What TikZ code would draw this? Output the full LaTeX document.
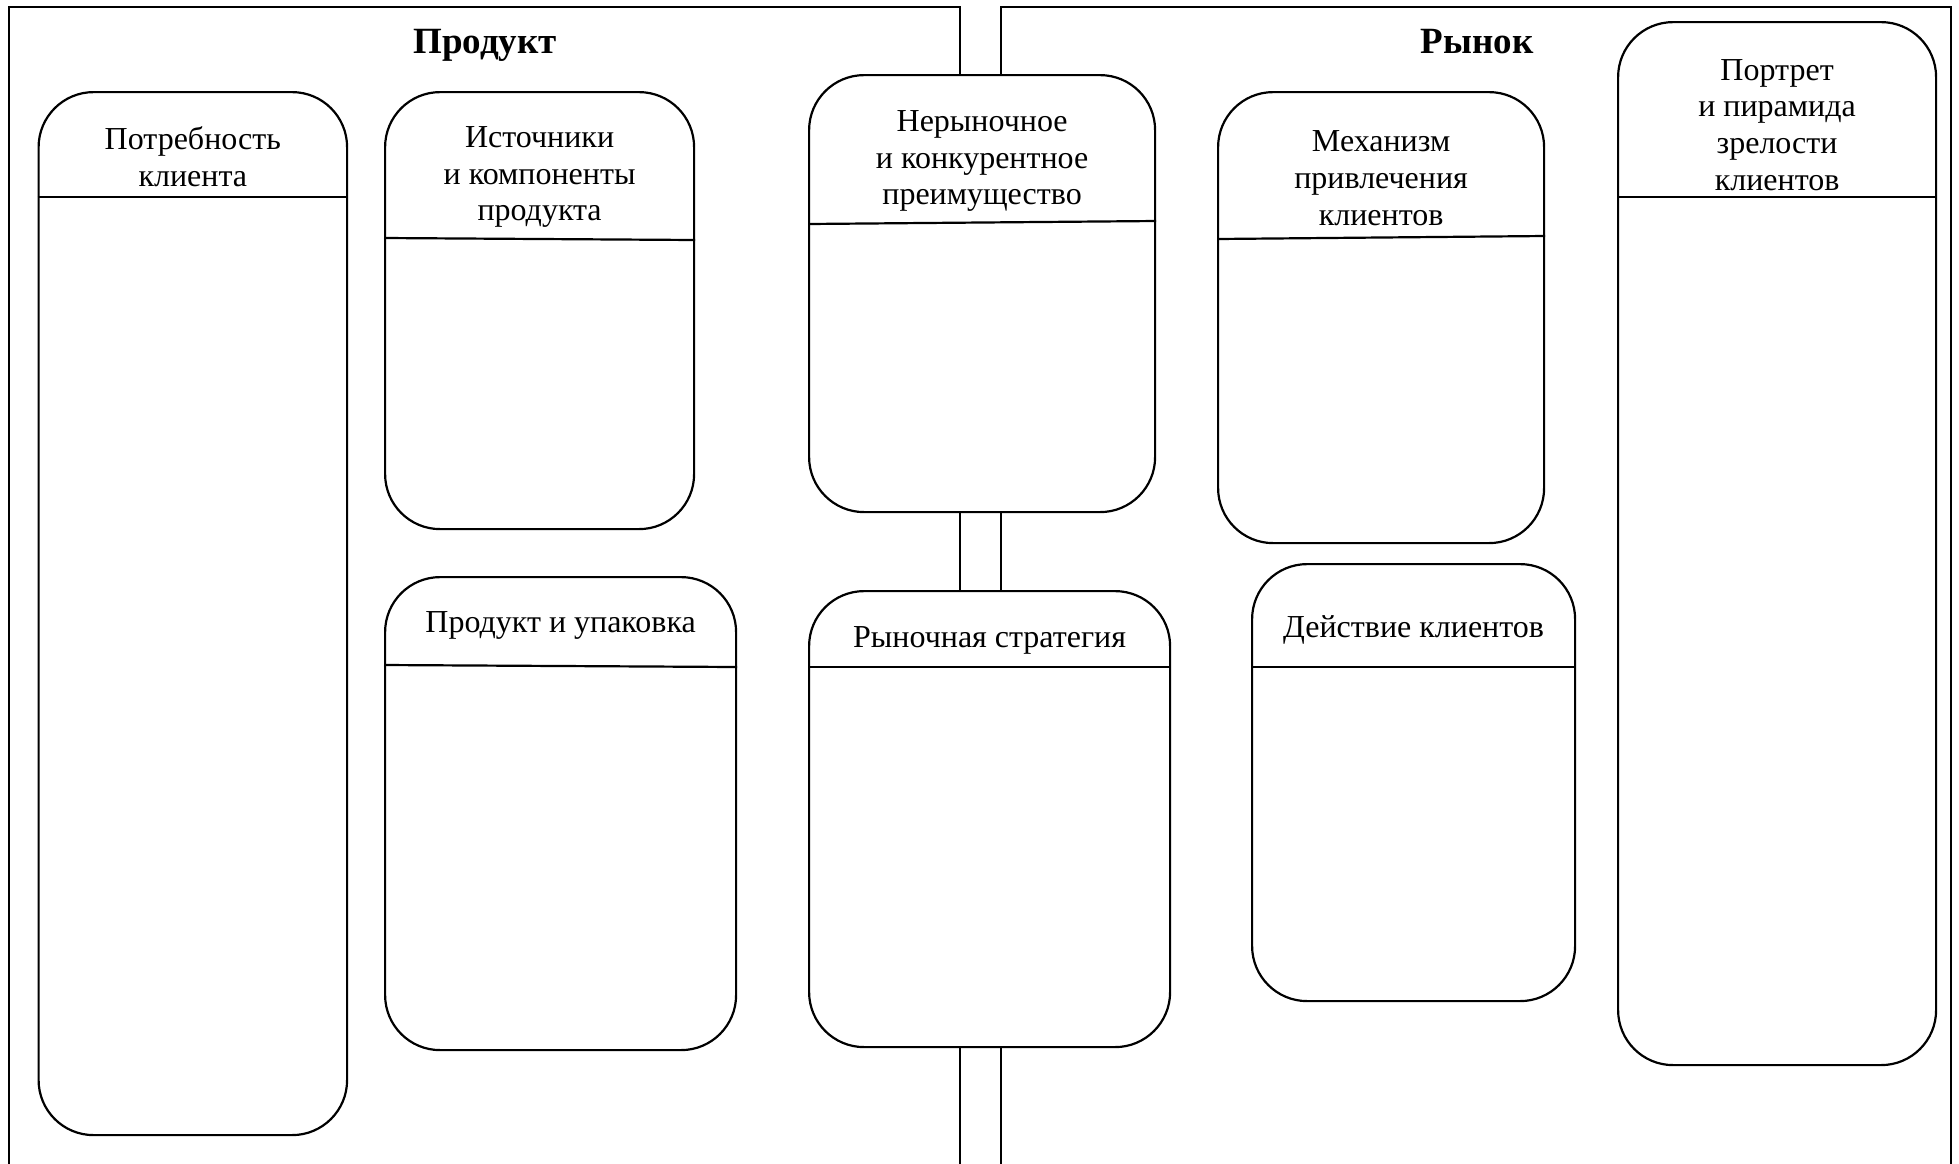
\documentclass[tikz,border=0pt]{standalone}
\usepackage{fontspec}
\setmainfont{Liberation Serif}
\begin{document}
\begin{tikzpicture}[x=1pt,y=-1pt,
  panel/.style={draw=black,line width=1.6pt},
  box/.style={draw=black,fill=white,line width=2.2pt,rounded corners=55pt,inner sep=0pt,anchor=north west},
  hline/.style={draw=black,line width=2.2pt},
  lbl/.style={align=center,inner sep=0pt,font=\fontsize{32}{36.8}\selectfont},
  ttl/.style={inner sep=0pt,anchor=base,font=\fontsize{37}{44}\selectfont\bfseries}]
\useasboundingbox (0,0) rectangle (1959,1163);
% panels
\draw[panel] (9,1170) -- (9,7) -- (960,7) -- (960,1170);
\draw[panel] (1001,1170) -- (1001,7) -- (1951,7) -- (1951,1170);
\node[ttl] (tp) at (485,53) {Продукт};
\node[ttl] (tr) at (1477,53) {Рынок};
% boxes
\node[box,minimum width=308.5pt,minimum height=1043pt] (b1) at (37.5,91) {};
\node[box,minimum width=309pt,minimum height=437pt] (b2) at (384,91) {};
\node[box,minimum width=351pt,minimum height=473pt] (b3) at (384,576) {};
\node[box,minimum width=346pt,minimum height=437pt] (b4) at (808,74) {};
\node[box,minimum width=361pt,minimum height=456pt] (b5) at (808,590) {};
\node[box,minimum width=326pt,minimum height=451pt] (b6) at (1217,91) {};
\node[box,minimum width=323pt,minimum height=437pt] (b7) at (1251,563) {};
\node[box,minimum width=318pt,minimum height=1043pt] (b8) at (1617,21) {};
% header lines
\draw[hline] (b1.west |- 0,197) -- (b1.east |- 0,197);
\draw[hline] (b2.west |- 0,238) -- (b2.east |- 0,240);
\draw[hline] (b3.west |- 0,665) -- (b3.east |- 0,667);
\draw[hline] (b4.west |- 0,224) -- (b4.east |- 0,221);
\draw[hline] (b5.west |- 0,667) -- (b5.east |- 0,667);
\draw[hline] (b6.west |- 0,239) -- (b6.east |- 0,236);
\draw[hline] (b7.west |- 0,667) -- (b7.east |- 0,667);
\draw[hline] (b8.west |- 0,197) -- (b8.east |- 0,197);
% labels
\node[lbl] (l1) at (b1.north |- 0,157) {Потребность\\клиента};
\node[lbl] (l2) at (b2.north |- 0,177) {Источники\\и компоненты\\продукта};
\node[lbl] (l3) at (b3.north |- 0,625) {Продукт и упаковка};
\node[lbl] (l4) at (b4.north |- 0,161) {Нерыночное\\и конкурентное\\преимущество};
\node[lbl] (l5) at (b5.north |- 0,640) {Рыночная стратегия};
\node[lbl] (l6) at (b6.north |- 0,178) {Механизм\\привлечения\\клиентов};
\node[lbl] (l7) at (b7.north |- 0,630) {Действие клиентов};
\node[lbl] (l8) at (b8.north |- 0,125) {Портрет\\и пирамида\\зрелости\\клиентов};
\end{tikzpicture}
\end{document}
